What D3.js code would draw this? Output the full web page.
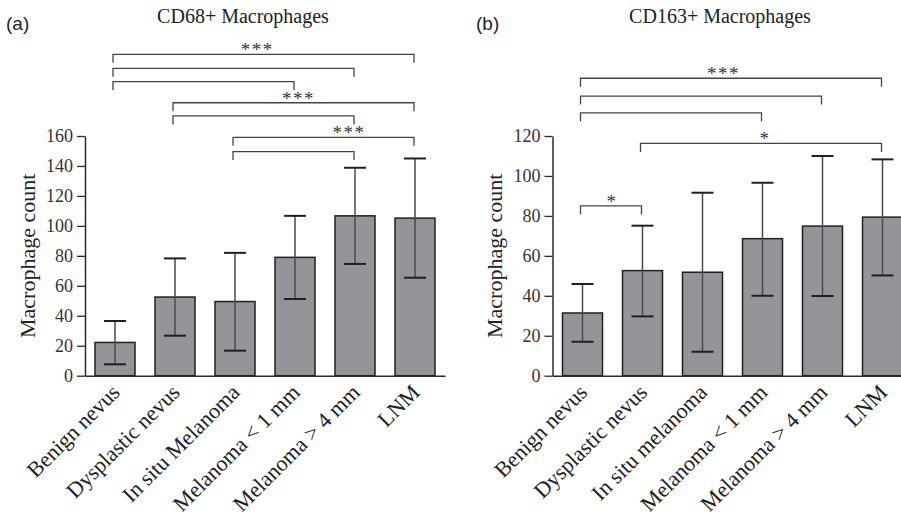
<!DOCTYPE html>
<html>
<head>
<meta charset="utf-8">
<script src="https://cdn.jsdelivr.net/npm/d3@7"></script>
<style>
  html, body { margin: 0; padding: 0; background: #fff; }
  svg { display: block; }
</style>
</head>
<body>
<svg id="chart" width="901" height="523"></svg>
<script>
// ---------------- DATA ----------------
const categoriesA = ["Benign nevus", "Dysplastic nevus", "In situ Melanoma", "Melanoma < 1 mm", "Melanoma > 4 mm", "LNM"];
const meanA  = [22.2, 52.5, 49.5, 79.0, 106.7, 105.2];
const upperA = [36.5, 78.3, 82.0, 106.7, 138.8, 145.0];
const lowerA = [7.6, 26.7, 16.7, 51.2, 74.6, 65.4];
const ticksA = [0, 20, 40, 60, 80, 100, 120, 140, 160];
// brackets: group indices, height (data units), significance label, label position (category index units)
const bracketsA = [
  { from: 0, to: 5, level: 214.5, label: "***", labelAt: 2.37 },
  { from: 0, to: 4, level: 205.2, label: "",    labelAt: 0 },
  { from: 0, to: 3, level: 196.3, label: "",    labelAt: 0 },
  { from: 1, to: 5, level: 182.2, label: "***", labelAt: 3.06 },
  { from: 1, to: 4, level: 173.4, label: "",    labelAt: 0 },
  { from: 2, to: 5, level: 159.1, label: "***", labelAt: 3.9 },
  { from: 2, to: 4, level: 149.6, label: "",    labelAt: 0 }
];

const categoriesB = ["Benign nevus", "Dysplastic nevus", "In situ melanoma", "Melanoma < 1 mm", "Melanoma > 4 mm", "LNM"];
const meanB  = [31.4, 52.6, 51.8, 68.6, 74.9, 79.4];
const upperB = [45.9, 75.1, 91.6, 96.6, 110.0, 108.3];
const lowerB = [17.0, 29.7, 12.0, 40.0, 39.9, 50.2];
const ticksB = [0, 20, 40, 60, 80, 100, 120];
const bracketsB = [
  { from: 0, to: 5, level: 148.9, label: "***", labelAt: 2.35 },
  { from: 0, to: 4, level: 140.0, label: "",    labelAt: 0 },
  { from: 0, to: 3, level: 131.6, label: "",    labelAt: 0 },
  { from: 1, to: 5, level: 116.3, label: "*",   labelAt: 3.04 },
  { from: 0, to: 1, level: 85.0,  label: "*",   labelAt: 0.49 }
];

const titleA = "CD68+ Macrophages";
const titleB = "CD163+ Macrophages";
const yLabel = "Macrophage count";

// ---------------- DRAWING ----------------
const svg = d3.select("#chart");
const SERIF = "'Liberation Serif', 'Times New Roman', serif";
const SANS = "'Liberation Sans', Arial, sans-serif";

function panel(opts) {
  const { cats, mean, upper, lower, ticks, brackets, x0, x1, y0, y1, yMax,
          title, titleX, tag, tagX, yLabelX } = opts;
  const g = svg.append("g");

  const x = d3.scaleBand().domain(cats).range([x0, x1])
    .paddingInner(1 / 3).paddingOuter(1 / 6);
  const y = d3.scaleLinear().domain([0, yMax]).range([y0, y1]);
  const cx = i => x(cats[i]) + x.bandwidth() / 2;
  const cxAt = p => cx(0) + p * x.step();

  // y axis
  const yAxis = d3.axisLeft(y).tickValues(ticks).tickSize(8).tickPadding(4).tickSizeOuter(0);
  const ya = g.append("g").attr("transform", `translate(${x0},0)`).call(yAxis)
    .attr("font-family", null).attr("font-size", null);
  ya.select(".domain").attr("stroke", "#2b2b2b").attr("stroke-width", 1.5);
  ya.selectAll(".tick line").attr("stroke", "#2b2b2b").attr("stroke-width", 1.3);
  ya.selectAll(".tick text")
    .style("font-family", SERIF).style("font-size", "18px").attr("fill", "#333");

  // bars
  g.selectAll("rect.bar").data(mean).join("rect")
    .attr("class", "bar")
    .attr("x", (d, i) => x(cats[i]))
    .attr("width", x.bandwidth())
    .attr("y", d => y(d))
    .attr("height", d => y(0) - y(d))
    .attr("fill", "#939598")
    .attr("stroke", "#231f20")
    .attr("stroke-width", 1.5);

  // x axis line
  const xAxis = d3.axisBottom(x).tickSize(0).tickSizeOuter(0).tickFormat("");
  const xa = g.append("g").attr("transform", `translate(0,${y0})`).call(xAxis);
  xa.select(".domain").attr("stroke", "#2b2b2b").attr("stroke-width", 1.5);

  // error bars
  const cap = 11;
  mean.forEach((m, i) => {
    const c = cx(i);
    g.append("line").attr("x1", c).attr("x2", c).attr("y1", y(upper[i])).attr("y2", y(lower[i]))
      .attr("stroke", "#4a4a4a").attr("stroke-width", 1.5);
    [upper[i], lower[i]].forEach(v => {
      g.append("line").attr("x1", c - cap).attr("x2", c + cap).attr("y1", y(v)).attr("y2", y(v))
        .attr("stroke", "#231f20").attr("stroke-width", 2);
    });
  });

  // x labels
  cats.forEach((name, i) => {
    g.append("text")
      .attr("transform", `translate(${cx(i) + 6},${y0 + 18}) rotate(-45)`)
      .attr("text-anchor", "end")
      .style("font-family", SERIF)
      .style("font-size", "22px")
      .attr("fill", "#222")
      .text(name);
  });

  // brackets
  const drop = 8.5;
  brackets.forEach(b => {
    const yy = y(b.level);
    const xa1 = cx(b.from) - 2, xb1 = cx(b.to) - 1;
    g.append("path")
      .attr("d", `M${xa1},${yy + drop}V${yy}H${xb1}V${yy + drop}`)
      .attr("fill", "none").attr("stroke", "#444").attr("stroke-width", 1.3);
    if (b.label) {
      g.append("text")
        .attr("x", cxAt(b.labelAt)).attr("y", yy + 2)
        .attr("text-anchor", "middle")
        .style("font-family", SERIF).style("font-size", "19px")
        .attr("letter-spacing", 1.5)
        .attr("fill", "#333")
        .text(b.label);
    }
  });

  // y label
  g.append("text")
    .attr("transform", `translate(${yLabelX},${(y0 + y1) / 2}) rotate(-90)`)
    .attr("text-anchor", "middle")
    .style("font-family", SERIF).style("font-size", "22px").attr("fill", "#222")
    .text(yLabel);

  // title
  g.append("text").attr("x", titleX).attr("y", 23).attr("text-anchor", "middle")
    .style("font-family", SERIF).style("font-size", "20px").attr("fill", "#222").text(title);

  // panel tag
  g.append("text").attr("x", tagX).attr("y", 30)
    .style("font-family", SANS).style("font-size", "19px").attr("fill", "#222").text(tag);
}

panel({ cats: categoriesA, mean: meanA, upper: upperA, lower: lowerA, ticks: ticksA, brackets: bracketsA,
        x0: 85, x1: 445, y0: 375.7, y1: 136, yMax: 160,
        title: titleA, titleX: 243, tag: "(a)", tagX: 6, yLabelX: 35 });

panel({ cats: categoriesB, mean: meanB, upper: upperB, lower: lowerB, ticks: ticksB, brackets: bracketsB,
        x0: 552.5, x1: 912.5, y0: 375.7, y1: 136, yMax: 120,
        title: titleB, titleX: 720, tag: "(b)", tagX: 476, yLabelX: 502 });
</script>
</body>
</html>
